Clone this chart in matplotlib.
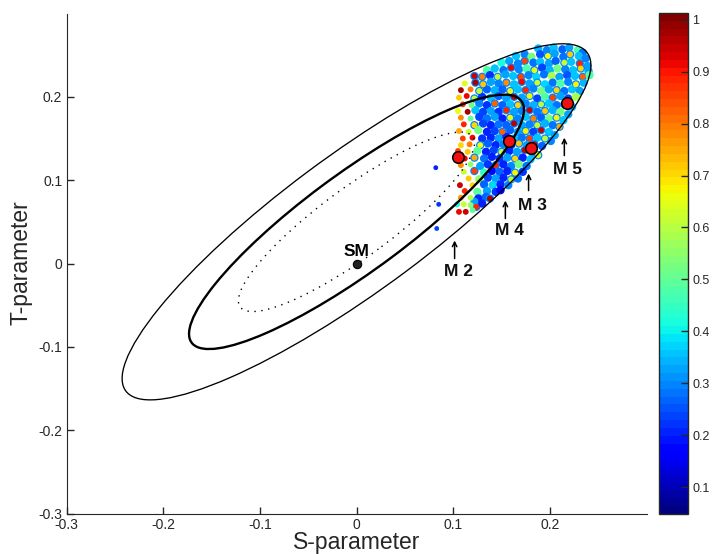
import matplotlib
matplotlib.use("Agg")
import matplotlib.pyplot as plt
import numpy as np
from matplotlib.patches import Ellipse
from matplotlib.cm import ScalarMappable
from matplotlib.colors import Normalize

plt.rcParams["font.family"] = ["Liberation Sans", "DejaVu Sans"]

# scan points
scan_s = [
    .188, .197, .204, .213, .220, .229, .234, .165, .174, .181,
    .190, .198, .205, .214, .221, .230, .237, .150, .158, .167,
    .174, .183, .190, .199, .206, .215, .222, .231, .239, .135,
    .143, .152, .160, .168, .176, .184, .192, .200, .208, .216,
    .224, .232, .240, .122, .130, .138, .146, .154, .162, .170,
    .178, .186, .194, .202, .210, .218, .226, .234, .241, .112,
    .123, .131, .139, .147, .155, .163, .171, .179, .187, .195,
    .203, .211, .219, .227, .235, .108, .118, .127, .135, .143,
    .151, .159, .167, .175, .183, .191, .199, .207, .215, .223,
    .231, .106, .114, .122, .130, .139, .147, .155, .163, .171,
    .179, .187, .195, .203, .211, .219, .227, .110, .119, .127,
    .135, .143, .151, .159, .167, .175, .183, .191, .199, .207,
    .215, .223, .105, .115, .123, .131, .139, .147, .155, .163,
    .171, .179, .187, .195, .203, .211, .219, .108, .118, .127,
    .135, .143, .151, .159, .167, .175, .183, .191, .199, .207,
    .214, .111, .122, .131, .139, .147, .155, .163, .171, .179,
    .187, .195, .203, .210, .106, .116, .126, .135, .143, .151,
    .159, .167, .175, .183, .191, .199, .205, .110, .120, .130,
    .139, .147, .155, .163, .171, .179, .187, .195, .201, .108,
    .117, .128, .136, .144, .152, .160, .168, .176, .184, .192,
    .105, .115, .125, .134, .142, .150, .158, .166, .174, .182,
    .188, .112, .122, .132, .140, .148, .156, .164, .172, .180,
    .108, .118, .128, .136, .144, .152, .160, .168, .176, .111,
    .122, .132, .140, .148, .156, .164, .172, .116, .127, .136,
    .144, .152, .160, .167, .107, .120, .132, .141, .149, .157,
    .112, .125, .135, .144, .149, .108, .118, .128, .134, .138,
    .104, .111, .118, .124, .106, .113, .120, .126, .122, .130,
]
scan_t = [
    .258, .256, .259, .257, .259, .256, .253, .249, .251, .248,
    .251, .249, .252, .248, .251, .249, .246, .241, .243, .240,
    .243, .241, .242, .240, .243, .241, .242, .240, .237, .232,
    .234, .232, .235, .233, .234, .232, .235, .232, .234, .233,
    .232, .234, .231, .225, .224, .226, .224, .227, .225, .224,
    .226, .224, .227, .225, .224, .226, .225, .224, .226, .216,
    .217, .215, .218, .216, .217, .215, .218, .216, .217, .215,
    .217, .216, .218, .215, .217, .208, .209, .207, .209, .208,
    .209, .207, .209, .208, .210, .207, .209, .208, .207, .209,
    .207, .199, .201, .198, .200, .199, .201, .198, .200, .199,
    .201, .198, .200, .199, .201, .198, .200, .191, .190, .192,
    .190, .192, .190, .191, .190, .192, .190, .191, .192, .190,
    .191, .188, .183, .182, .184, .182, .183, .182, .184, .182,
    .183, .184, .182, .183, .184, .182, .179, .175, .174, .176,
    .174, .176, .174, .175, .174, .176, .174, .175, .174, .175,
    .172, .167, .166, .168, .166, .167, .166, .168, .166, .167,
    .166, .168, .166, .164, .159, .158, .160, .158, .159, .158,
    .160, .158, .159, .158, .160, .158, .154, .150, .151, .150,
    .151, .150, .152, .150, .151, .150, .151, .150, .147, .142,
    .143, .142, .144, .142, .143, .142, .144, .142, .143, .141,
    .135, .134, .135, .134, .136, .134, .135, .134, .136, .133,
    .130, .126, .127, .126, .128, .126, .127, .126, .127, .125,
    .118, .119, .117, .119, .118, .119, .117, .119, .117, .110,
    .111, .109, .111, .110, .111, .109, .110, .102, .101, .103,
    .102, .103, .101, .102, .094, .094, .095, .094, .095, .094,
    .087, .086, .087, .086, .088, .079, .079, .079, .080, .078,
    .071, .071, .070, .068, .062, .062, .064, .078, .074, .072,
]
scan_c = [
    .34, .30, .36, .26, .33, .48, .28, .36, .30, .52,
    .25, .66, .33, .28, .72, .35, .30, .42, .33, .30,
    .85, .28, .36, .33, .26, .62, .36, .88, .33, .48,
    .36, .28, .92, .30, .48, .66, .24, .34, .52, .30,
    .36, .70, .33, .95, .80, .22, .62, .33, .36, .85,
    .30, .37, .28, .58, .33, .25, .35, .82, .48, .65,
    .98, .72, .33, .30, .78, .36, .92, .33, .62, .37,
    .28, .48, .30, .68, .34, .98, .80, .62, .26, .34,
    .26, .64, .36, .88, .30, .52, .33, .70, .28, .36,
    .33, .72, .92, .60, .22, .36, .26, .33, .95, .33,
    .66, .24, .48, .85, .33, .24, .58, .85, .52, .30,
    .22, .82, .26, .36, .70, .30, .34, .60, .35, .28,
    .92, .34, .66, .98, .36, .24, .33, .22, .88, .33,
    .30, .95, .28, .72, .34, .52, .33, .78, .50, .24,
    .28, .33, .20, .66, .30, .36, .80, .26, .52, .68,
    .35, .88, .70, .24, .20, .28, .26, .96, .33, .30,
    .62, .34, .28, .75, .75, .62, .52, .20, .24, .82,
    .26, .33, .68, .24, .94, .35, .33, .85, .92, .22,
    .20, .33, .20, .36, .28, .85, .36, .60, .30, .70,
    .80, .66, .26, .20, .30, .24, .72, .33, .94, .26,
    .85, .72, .50, .20, .24, .60, .20, .33, .95, .30,
    .65, .92, .75, .28, .20, .22, .33, .70, .20, .36,
    .78, .55, .33, .22, .88, .20, .30, .52, .28, .62,
    .86, .45, .18, .26, .20, .68, .22, .72, .55, .24,
    .33, .20, .62, .28, .94, .70, .26, .37, .20, .30,
    .88, .50, .33, .22, .18, .76, .60, .45, .26, .98,
    .42, .62, .55, .88, .92, .95, .50, .20, .33, .20,
]

# the three points away from the cloud
stray_s = [.082, .085, .083]
stray_t = [.115, .071, .042]
stray_c = [.20, .22, .24]

# benchmark models
model_names = ["M 2", "M 4", "M 3", "M 5"]
model_s = [.105, .158, .181, .218]
model_t = [.128, .147, .139, .193]
arrow_s = [.1015, .154, .178, .215]
arrow_low = [.006, .054, .0875, .1295]
arrow_high = [.0276, .0755, .108, .151]
label_s = [.105, .158, .182, .218]
label_t = [-.0096, .040, .0695, .113]

# confidence ellipses: centre, full axes, tilt in data units
ell_s = .0
ell_t = .05
ell_long = [.627, .448, .316]
ell_short = [.157, .112, .079]
ell_angle = 40.9

ticks = [-.3, -.2, -.1, 0, .1, .2]
tick_labels = ["-0.3", "-0.2", "-0.1", "0", "0.1", "0.2"]
cbar_ticks = [.1, .2, .3, .4, .5, .6, .7, .8, .9, 1]
cbar_labels = ["0.1", "0.2", "0.3", "0.4", "0.5", "0.6", "0.7", "0.8", "0.9", "1"]

dark = "#262626"
cmap = plt.get_cmap("jet", 64)
norm = Normalize(.048, 1.013)

fig = plt.figure(figsize=(7.14, 5.54), dpi=100)
ax = fig.add_axes([66.5 / 714, 1 - 513.5 / 554, 580 / 714, 500 / 554])

# cool points fat inside the cloud, hot ones and the left fringe as small specks
s_arr = np.array(scan_s)
t_arr = np.array(scan_t)
c_arr = np.array(scan_c)
hot = c_arr >= .6
inner = s_arr >= .122
ax.scatter(s_arr[inner], t_arr[inner], c=np.where(hot, .3, c_arr)[inner], cmap=cmap, norm=norm,
           s=36, linewidths=0, zorder=2)
ax.scatter(s_arr[hot | ~inner], t_arr[hot | ~inner], c=c_arr[hot | ~inner], cmap=cmap, norm=norm,
           s=18, linewidths=0, zorder=2.1)
ax.scatter(stray_s, stray_t, c=stray_c, cmap=cmap, norm=norm, s=6, facecolors="none", linewidths=1, zorder=2)

# Ellipses
styles = [("-", .95), ("-", 1.7), ((0, (1, 4)), 1.0)]
for long_axis, short_axis, (ls, lw) in zip(ell_long, ell_short, styles):
    ax.add_patch(Ellipse((ell_s, ell_t), long_axis, short_axis, angle=ell_angle, fill=False,
                         ec="black", ls=ls, lw=lw, zorder=3))

ax.scatter(model_s, model_t, s=70, c="#f01010", edgecolors="black", linewidths=1.1, zorder=4)
ax.scatter([0], [0], s=36, c="#222222", edgecolors="black", linewidths=.8, zorder=4)
ax.text(0, .014, "SM", fontsize=12.5, fontweight="bold", ha="center", va="center", zorder=5)

for i in range(len(model_names)):
    ax.annotate("", xy=(arrow_s[i], arrow_high[i]), xytext=(arrow_s[i], arrow_low[i]),
                arrowprops=dict(arrowstyle="->", lw=1.1, color="black", shrinkA=0, shrinkB=0,
                                mutation_scale=8))
    ax.text(label_s[i], label_t[i], model_names[i], fontsize=12.5, fontweight="bold",
            ha="center", va="center", color="#111111")

ax.set_xlim(-.3, .3)
ax.set_ylim(-.3, .3)
ax.set_xticks(ticks)
ax.set_xticklabels(tick_labels)
ax.set_yticks(ticks)
ax.set_yticklabels(tick_labels)
ax.tick_params(direction="in", length=5, width=1, color=dark, labelcolor=dark, labelsize=10, pad=3)
ax.spines["top"].set_visible(False)
ax.spines["right"].set_visible(False)
ax.spines["left"].set_color(dark)
ax.spines["bottom"].set_color(dark)
fig.text(356.5 / 714, 1 - 543 / 554, "S-parameter", fontsize=16.5, color=dark, ha="center", va="center")
fig.text(21 / 714, 1 - 263 / 554, "T-parameter", fontsize=16.5, color=dark, ha="center", va="center",
         rotation=90)

# Colorbar
cax = fig.add_axes([659 / 714, 1 - 514 / 554, 29 / 714, 501 / 554])
cbar = fig.colorbar(ScalarMappable(norm=norm, cmap=cmap), cax=cax)
cbar.set_ticks(cbar_ticks)
cbar.set_ticklabels(cbar_labels)
cbar.ax.tick_params(direction="in", length=5, width=1, color=dark, labelcolor=dark, labelsize=9, pad=3)
cbar.outline.set_edgecolor(dark)
cbar.outline.set_linewidth(1)

fig.savefig("out.png", dpi=100)
plt.close(fig)
